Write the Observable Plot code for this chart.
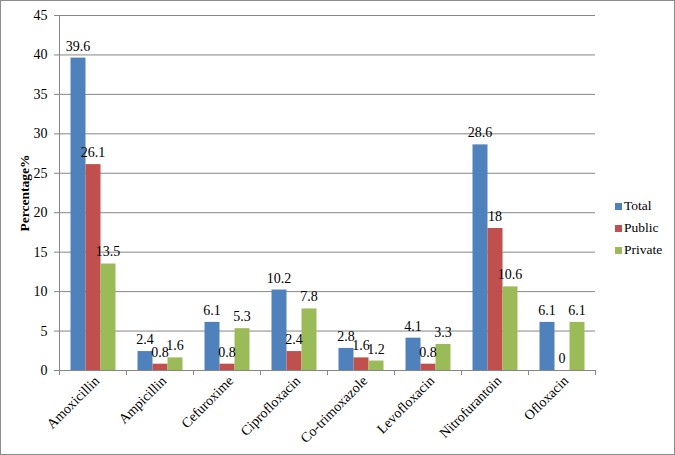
<!DOCTYPE html>
<html>
<head>
<meta charset="utf-8">
<script src="https://cdn.jsdelivr.net/npm/d3@7"></script>
<script src="https://cdn.jsdelivr.net/npm/@observablehq/plot@0.6"></script>
<style>
  body { margin: 0; background: #fff; }
  #wrap { position: relative; width: 675px; height: 455px; font-family: "Times New Roman", "Liberation Serif", serif; }
  #border { position: absolute; left: 0; top: 0; width: 675px; height: 455px; box-sizing: border-box; border: 1px solid #8c8c8c; pointer-events: none; }
  #legend { position: absolute; left: 615px; top: 195px; font-size: 13.5px; color: #000; font-family: "Times New Roman", "Liberation Serif", serif; }
  #legend div { display: flex; align-items: center; height: 22px; }
  #legend span.sw { display: inline-block; width: 7px; height: 7px; margin-right: 2px; }
  svg, svg text { font-family: "Times New Roman", "Liberation Serif", serif !important; }
  svg [aria-label="y-axis label"] text { font-weight: bold; font-size: 13.5px; }
</style>
</head>
<body>
<div id="wrap">
  <div id="chart"></div>
  <div id="legend"></div>
  <div id="border"></div>
</div>
<script>
const categories = ["Amoxicillin", "Ampicillin", "Cefuroxime", "Ciprofloxacin", "Co-trimoxazole", "Levofloxacin", "Nitrofurantoin", "Ofloxacin"];
const series = ["Total", "Public", "Private"];
const totalValues = [39.6, 2.4, 6.1, 10.2, 2.8, 4.1, 28.6, 6.1];
const publicValues = [26.1, 0.8, 0.8, 2.4, 1.6, 0.8, 18, 0];
const privateValues = [13.5, 1.6, 5.3, 7.8, 1.2, 3.3, 10.6, 6.1];
const yTicks = [0, 5, 10, 15, 20, 25, 30, 35, 40, 45];
const colors = ["#4F81BD", "#C0504D", "#9BBB59"];

const valuesBySeries = [totalValues, publicValues, privateValues];
const rows = series.map((s, i) => categories.map((c, j) => ({category: c, series: s, value: valuesBySeries[i][j]})));

const insets = [[11.5, 40.5], [26.5, 25.5], [41.5, 10.5]];
const labelDx = [-15, 0, 15];
const axisColor = "#868686";

const marks = [
  Plot.gridY(yTicks, {stroke: axisColor, strokeOpacity: 1}),
  Plot.ruleX([categories[0]], {x: d => d, y1: 0, y2: 45, dx: -33.5, stroke: axisColor}),
  Plot.ruleX(categories, {x: d => d, y1: 0, y2: -0.65, dx: -33.5, stroke: axisColor}),
  Plot.ruleX([categories[categories.length - 1]], {x: d => d, y1: 0, y2: -0.65, dx: 33.5, stroke: axisColor}),
  Plot.ruleY([0], {stroke: axisColor}),
];
rows.forEach((data, i) => {
  marks.push(Plot.barY(data, {x: "category", y: "value", fill: colors[i], insetLeft: insets[i][0], insetRight: insets[i][1]}));
});
rows.forEach((data, i) => {
  marks.push(Plot.text(data, {x: "category", y: "value", text: d => String(d.value), dx: labelDx[i], dy: -12, fill: "#000", fontSize: 14}));
});
marks.push(Plot.axisY(yTicks, {tickSize: 5, tickPadding: 7, stroke: axisColor, fontSize: 14, label: "Percentage%", labelAnchor: "center", labelOffset: 40, labelArrow: "none"}));
marks.push(Plot.axisX({tickSize: 0, tickPadding: 8, tickRotate: -45, fontSize: 14, label: null, dx: 4}));

const chart = Plot.plot({
  width: 675,
  height: 455,
  marginLeft: 59,
  marginRight: 80,
  marginTop: 15,
  marginBottom: 85,
  style: {fontFamily: "'Times New Roman', 'Liberation Serif', serif", fontSize: "14px", color: "#000", background: "transparent"},
  x: {domain: categories, paddingInner: 0, paddingOuter: 0},
  y: {domain: [0, 45]},
  marks
});
document.getElementById("chart").appendChild(chart);

const legend = document.getElementById("legend");
series.forEach((s, i) => {
  const row = document.createElement("div");
  const sw = document.createElement("span");
  sw.className = "sw";
  sw.style.background = colors[i];
  row.appendChild(sw);
  row.appendChild(document.createTextNode(s));
  legend.appendChild(row);
});
</script>
</body>
</html>
